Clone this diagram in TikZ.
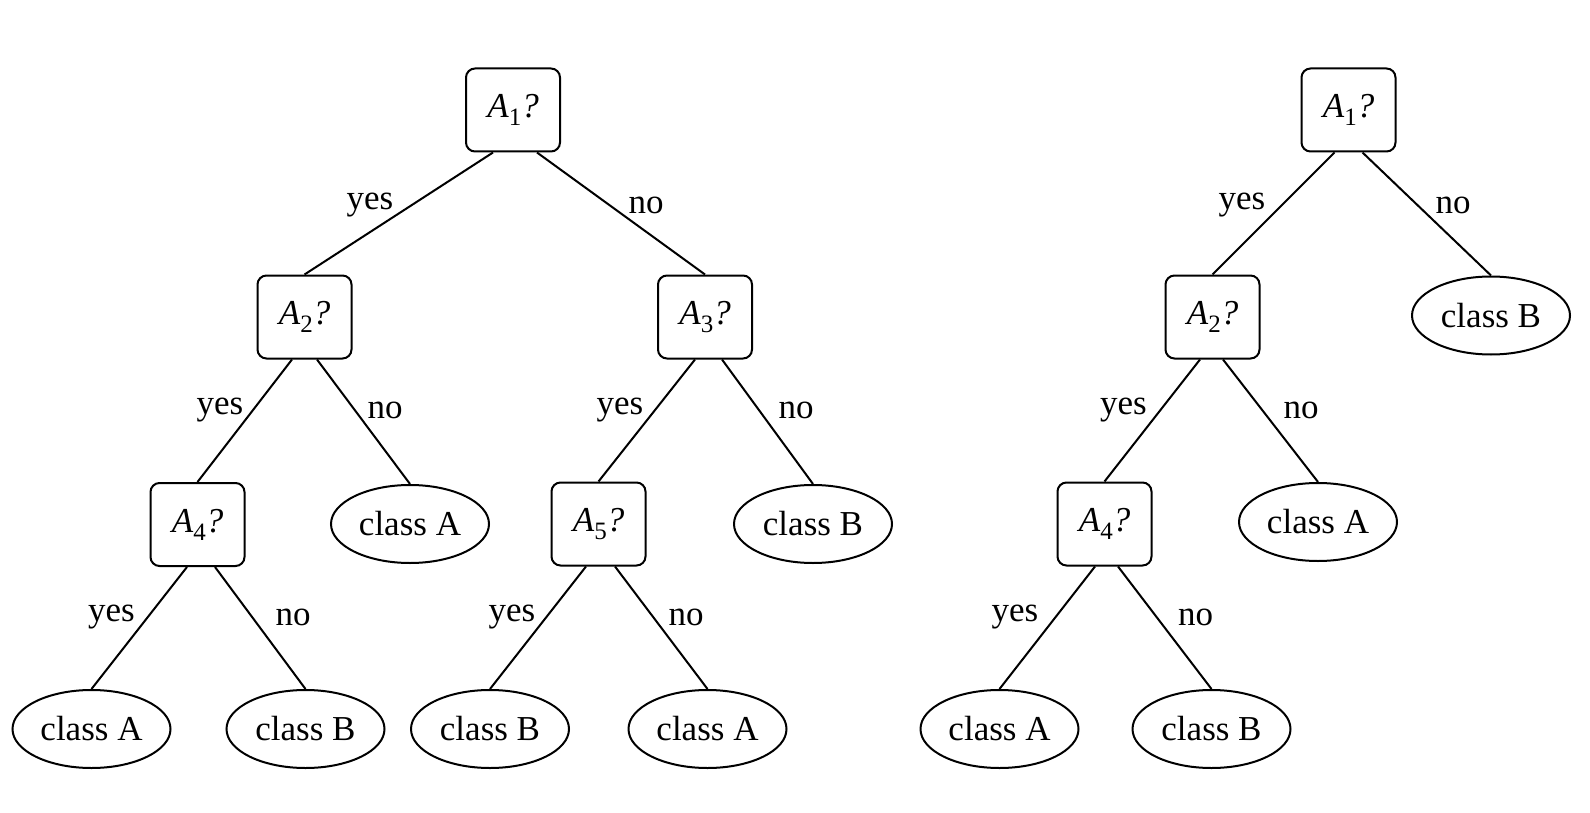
\documentclass[tikz,border=0pt]{standalone}
\usepackage{fontspec}
\setmainfont{Liberation Serif}
\usetikzlibrary{shapes.geometric}
\newcommand{\attr}[1]{\textit{A}\raisebox{-0.5ex}{\fontsize{25}{25}\selectfont #1}\textit{?}}
\begin{document}
\begin{tikzpicture}[x=1pt,y=-1pt,
  every node/.style={font=\fontsize{35}{40}\selectfont},
  test/.style={draw,line width=2pt,rounded corners=9pt,minimum width=94pt,minimum height=83pt,inner sep=0pt},
  leaf/.style={draw,ellipse,line width=2pt,minimum width=158pt,minimum height=78pt,inner sep=0pt},
  edge/.style={line width=2pt},
  lbl/.style={inner sep=0pt}]
\useasboundingbox (0,0) rectangle (1590,813);
% left tree
\node[test] (la1) at (513,110) {\attr{1}};
\node[test] (la2) at (304.5,317) {\attr{2}};
\node[test] (la3) at (705,317) {\attr{3}};
\node[test] (la4) at (197.5,524.5) {\attr{4}};
\node[leaf] (lca) at (410,524) {class A};
\node[test] (la5) at (598.5,524) {\attr{5}};
\node[leaf] (lcb) at (813,524) {class B};
\node[leaf] (ll1) at (91.5,729) {class A};
\node[leaf] (ll2) at (305.5,729) {class B};
\node[leaf] (ll3) at (490,729) {class B};
\node[leaf] (ll4) at (707.5,729) {class A};
\draw[edge] ([xshift=-20pt]la1.south) -- (la2.north);
\draw[edge] ([xshift=24pt]la1.south) -- (la3.north);
\draw[edge] ([xshift=-12.5pt]la2.south) -- (la4.north);
\draw[edge] ([xshift=12.5pt]la2.south) -- (lca.north);
\draw[edge] ([xshift=-10pt]la3.south) -- (la5.north);
\draw[edge] ([xshift=17pt]la3.south) -- (lcb.north);
\draw[edge] ([xshift=-10.5pt]la4.south) -- (ll1.north);
\draw[edge] ([xshift=17.5pt]la4.south) -- (ll2.north);
\draw[edge] ([xshift=-12.5pt]la5.south) -- (ll3.north);
\draw[edge] ([xshift=16.5pt]la5.south) -- (ll4.north);
\node[lbl] (t1) at (370,205) {yes};
\node[lbl] (t2) at (646,205) {no};
\node[lbl] (t3) at (220,410) {yes};
\node[lbl] (t4) at (385,410) {no};
\node[lbl] (t5) at (620,410) {yes};
\node[lbl] (t6) at (796,410) {no};
\node[lbl] (t7) at (111.5,617) {yes};
\node[lbl] (t8) at (293,617) {no};
\node[lbl] (t9) at (512,617) {yes};
\node[lbl] (t10) at (686,617) {no};
% right tree
\node[test] (ra1) at (1348.5,110) {\attr{1}};
\node[test] (ra2) at (1212.5,317) {\attr{2}};
\node[leaf] (rcb) at (1491,315.5) {class B};
\node[test] (ra4) at (1104.5,524) {\attr{4}};
\node[leaf] (rca) at (1318,522) {class A};
\node[leaf] (rl1) at (999.5,729) {class A};
\node[leaf] (rl2) at (1211.5,729) {class B};
\draw[edge] ([xshift=-14pt]ra1.south) -- (ra2.north);
\draw[edge] ([xshift=14pt]ra1.south) -- (rcb.north);
\draw[edge] ([xshift=-12.5pt]ra2.south) -- (ra4.north);
\draw[edge] ([xshift=10.5pt]ra2.south) -- (rca.north);
\draw[edge] ([xshift=-9.5pt]ra4.south) -- (rl1.north);
\draw[edge] ([xshift=13.5pt]ra4.south) -- (rl2.north);
\node[lbl] (r1) at (1242,205) {yes};
\node[lbl] (r2) at (1453,205) {no};
\node[lbl] (r3) at (1123.5,410) {yes};
\node[lbl] (r4) at (1301,410) {no};
\node[lbl] (r5) at (1015,617) {yes};
\node[lbl] (r6) at (1195.5,617) {no};
\end{tikzpicture}
\end{document}
